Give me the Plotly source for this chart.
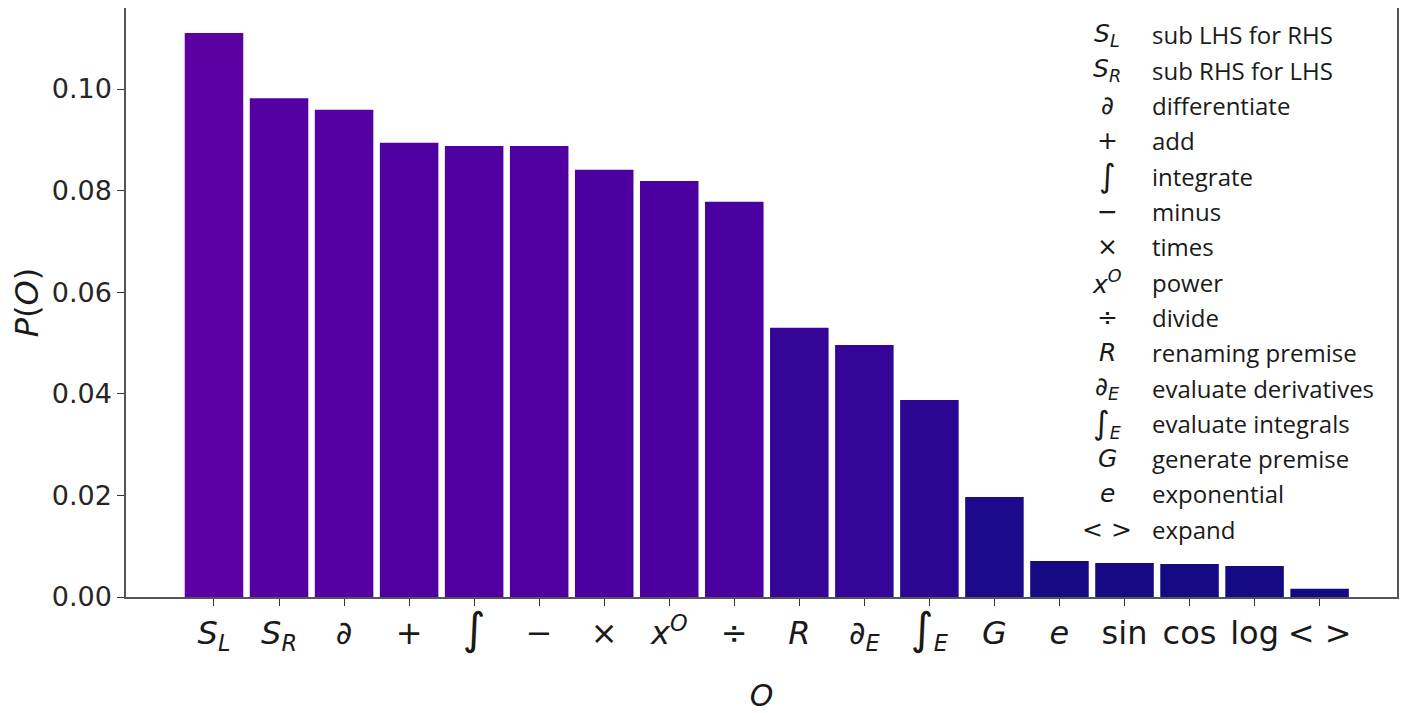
import plotly.graph_objects as go

categories = ["<i>S</i><sub><i>L</i></sub>", "<i>S</i><sub><i>R</i></sub>", "∂", "+",
              "<span style='font-size:44px'>∫</span>", "−", "×",
              "<i>x</i><sup><i>O</i></sup>", "÷", "<i>R</i>", "∂<sub><i>E</i></sub>",
              "<span style='font-size:44px'>∫</span><sub><i>E</i></sub>", "<i>G</i>", "<i>e</i>",
              "sin", "cos", "log", "&lt; &gt;"]
values = [0.1110, 0.0982, 0.0959, 0.0894, 0.0888, 0.0888, 0.0841, 0.0819, 0.0778,
          0.0530, 0.0496, 0.0388, 0.0197, 0.0071, 0.0067, 0.0065, 0.0061, 0.0016]

legend_symbols = ["<i>S</i><sub><i>L</i></sub>", "<i>S</i><sub><i>R</i></sub>", "∂", "+",
                  "<span style='font-size:32px'>∫</span>", "−", "×",
                  "<i>x</i><sup><i>O</i></sup>", "÷", "<i>R</i>", "∂<sub><i>E</i></sub>",
                  "<span style='font-size:32px'>∫</span><sub><i>E</i></sub>", "<i>G</i>", "<i>e</i>",
                  "&lt; &gt;"]
legend_texts = ["sub LHS for RHS", "sub RHS for LHS", "differentiate", "add", "integrate", "minus",
                "times", "power", "divide", "renaming premise", "evaluate derivatives",
                "evaluate integrals", "generate premise", "exponential", "expand"]

x = list(range(len(categories)))

OFF = 8  # page body margin
L, R, T, B = 126 - OFF, 1397 - OFF, 0, 597 - OFF

fig = go.Figure()
fig.add_trace(go.Bar(
    x=x, y=values,
    marker=dict(color=values, colorscale=[[0, "#120a80"], [0.2, "#1e0a8c"], [0.7, "#4a00a0"], [1, "#5c00a4"]],
                cmin=0, cmax=max(values), line=dict(width=0)),
    showlegend=False,
))

row_y0 = 35
row_dy = 35.3
for i, (s, t) in enumerate(zip(legend_symbols, legend_texts)):
    yy = row_y0 + i * row_dy - OFF
    yp = 1 - (yy - T) / (B - T)
    fig.add_annotation(xref="paper", yref="paper", x=(1107 - OFF - L) / (R - L), y=yp,
                       text=s, showarrow=False, xanchor="center", yanchor="middle",
                       font=dict(family="DejaVu Sans", size=25, color="#1a1a1a"))
    fig.add_annotation(xref="paper", yref="paper", x=(1150 - OFF - L) / (R - L), y=yp,
                       text=t, showarrow=False, xanchor="left", yanchor="middle",
                       font=dict(family="Open Sans", size=24, color="#1a1a1a"))

fig.update_layout(
    width=1414, height=713,
    margin=dict(l=L, r=1414 - R, t=T, b=713 - B, autoexpand=False),
    paper_bgcolor="white", plot_bgcolor="white",
    bargap=0.1,
    font=dict(family="DejaVu Sans", color="#262626"),
    xaxis=dict(
        range=[-1.353, 18.19], tickmode="array", tickvals=x, ticktext=categories,
        tickfont=dict(family="DejaVu Sans", size=32, color="#1a1a1a"),
        ticks="outside", ticklen=7, tickcolor="#333", showgrid=False, zeroline=False,
        showline=True, linecolor="#555", linewidth=1.5, mirror=True, automargin=False,
        title=dict(text="<i>O</i>", font=dict(family="DejaVu Sans", size=30, color="#1a1a1a"), standoff=30),
    ),
    yaxis=dict(
        range=[0, (B - T) / 5080], tickmode="array", tickvals=[0, 0.02, 0.04, 0.06, 0.08, 0.10],
        ticktext=["0.00", "0.02", "0.04", "0.06", "0.08", "0.10"],
        tickfont=dict(family="DejaVu Sans", size=27, color="#262626"),
        ticks="outside", ticklen=7, tickcolor="#333", showgrid=False, zeroline=False,
        showline=True, linecolor="#555", linewidth=1.5, mirror=True, automargin=False,
        title=dict(text="<i>P</i>(<i>O</i>)", font=dict(family="DejaVu Sans", size=32, color="#1a1a1a"), standoff=26),
    ),
)

fig.write_html("out.html")
